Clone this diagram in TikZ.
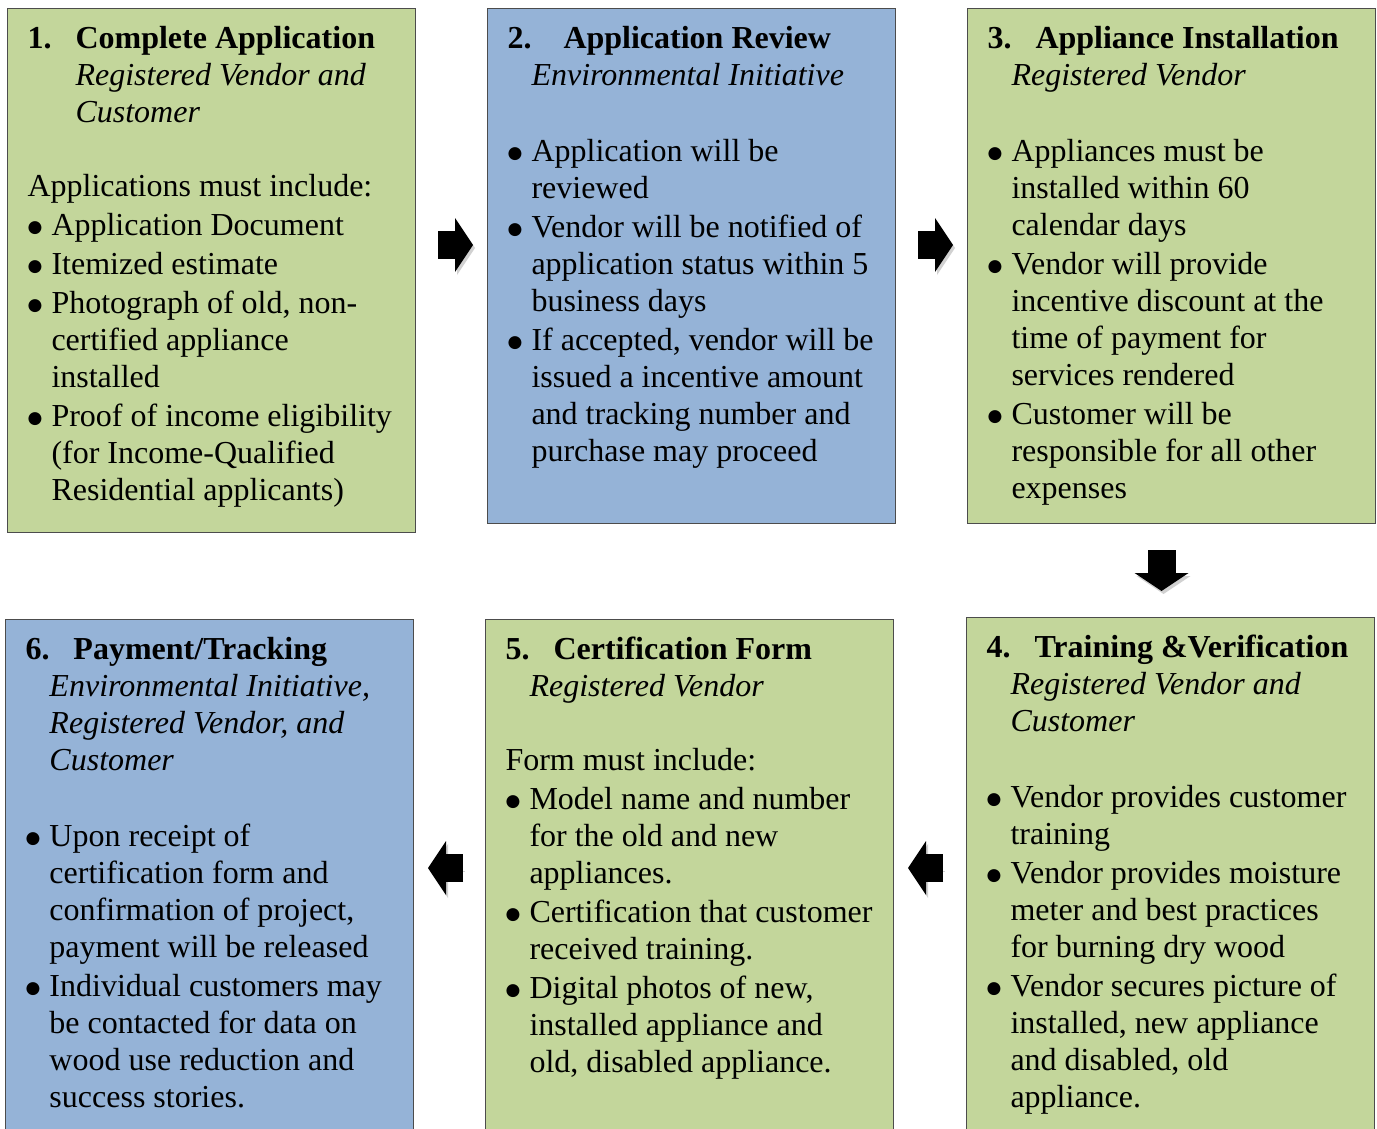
\documentclass[tikz,border=0pt]{standalone}
\usepackage{fontspec}
\setmainfont{Liberation Serif}
\newfontfamily\symfont{DejaVu Sans}
\usetikzlibrary{arrows.meta,calc}
\definecolor{boxgreen}{HTML}{C3D69B}
\definecolor{boxblue}{HTML}{95B3D7}
\newcommand\boxsetup{\fontsize{32pt}{37pt}\selectfont
  \spaceskip=8pt plus 4pt minus 1pt\relax\xspaceskip=8pt plus 4pt\relax
  \rightskip=0pt plus 1fil\relax\parskip=2pt\relax\parindent=0pt\relax}
\newcommand\bigbullet{\raisebox{3pt}{\symfont\fontsize{17pt}{18pt}\selectfont ●}}
\newcommand\bul{\par\hangindent=24pt\hangafter=1\noindent\makebox[24pt][l]{\bigbullet}}
\newcommand\stephead[3]{\noindent\makebox[#1][l]{\textbf{#2}}\textbf{#3}\par\vspace{-2pt}}
\newcommand\stepsub[2]{{\leftskip=#1\relax\itshape #2\par}}
\newcommand\gap[1]{\par\vspace{#1}}
\newcommand\boxtext[1]{\parbox[t]{368pt}{\boxsetup #1\par}}
\begin{document}
\begin{tikzpicture}[x=1pt,y=-1pt,
  stepbox/.style={draw=black!70, line width=1pt, anchor=north west,
    inner xsep=20pt, inner ysep=0pt, text height=40pt},
  blockarrow/.style={line width=28pt, black,
    -{Triangle[length=18pt,width=54pt,line width=0pt]},
    preaction={draw=black!18, transform canvas={shift={(2pt,-3pt)}}}}
]
\useasboundingbox[fill=white] (0,0) rectangle (1377,1129);

\node[stepbox, fill=boxgreen, text depth=484pt] (b1) at (7,8) {\boxtext{%
\stephead{48pt}{1.}{Complete Application}
\stepsub{48pt}{Registered Vendor and\\Customer}
\gap{35pt}
Applications must include:
\bul Application Document
\bul Itemized estimate
\bul Photograph of old, non-\\certified appliance\\installed
\bul Proof of income eligibility\\(for Income-Qualified\\Residential applicants)}};

\node[stepbox, fill=boxblue, text depth=475pt] (b2) at (487,8) {\boxtext{%
\stephead{56pt}{2.}{Application Review}
\stepsub{24pt}{Environmental Initiative}
\gap{37pt}
\bul Application will be\\reviewed
\bul Vendor will be notified of\\application status within 5\\business days
\bul If accepted, vendor will be\\issued a incentive amount\\and tracking number and\\purchase may proceed}};

\node[stepbox, fill=boxgreen, text depth=475pt] (b3) at (967,8) {\boxtext{%
\stephead{48pt}{3.}{Appliance Installation}
\stepsub{24pt}{Registered Vendor}
\gap{37pt}
\bul Appliances must be\\installed within 60\\calendar days
\bul Vendor will provide\\incentive discount at the\\time of payment for\\services rendered
\bul Customer will be\\responsible for all other\\expenses}};

\node[stepbox, fill=boxgreen, text depth=500pt] (b4) at (966,617) {\boxtext{%
\stephead{48pt}{4.}{Training \&Verification}
\stepsub{24pt}{Registered Vendor and\\Customer}
\gap{37pt}
\bul Vendor provides customer\\training
\bul Vendor provides moisture\\meter and best practices\\for burning dry wood
\bul Vendor secures picture of\\installed, new appliance\\and disabled, old\\appliance.}};

\node[stepbox, fill=boxgreen, text depth=500pt] (b5) at (485,619) {\boxtext{%
\stephead{48pt}{5.}{Certification Form}
\stepsub{24pt}{Registered Vendor}
\gap{35pt}
Form must include:
\bul Model name and number\\for the old and new\\appliances.
\bul Certification that customer\\received training.
\bul Digital photos of new,\\installed appliance and\\old, disabled appliance.}};

\node[stepbox, fill=boxblue, text depth=500pt] (b6) at (5,619) {\boxtext{%
\stephead{48pt}{6.}{Payment/Tracking}
\stepsub{24pt}{Environmental Initiative,\\Registered Vendor, and\\Customer}
\gap{37pt}
\bul Upon receipt of\\certification form and\\confirmation of project,\\payment will be released
\bul Individual customers may\\be contacted for data on\\wood use reduction and\\success stories.}};

\coordinate (r1) at ($(b1.north east)+(0,237)$);
\coordinate (r2) at ($(b2.north east)+(0,237)$);
\coordinate (d1) at ($(b3.south)+(-10,0)$);
\coordinate (l1) at ($(b4.north west)+(0,251)$);
\coordinate (l2) at ($(b5.north west)+(0,249)$);

\draw[blockarrow, shorten <=22pt, shorten >=14pt] (r1) -- (r1 -| b2.west);
\draw[blockarrow, shorten <=22pt, shorten >=14pt] (r2) -- (r2 -| b3.west);
\draw[blockarrow, shorten <=26pt, shorten >=26pt] (d1) -- (d1 |- b4.north);
\draw[blockarrow, shorten <=23pt, shorten >=14pt] (l1) -- (l1 -| b5.east);
\draw[blockarrow, shorten <=22pt, shorten >=14pt] (l2) -- (l2 -| b6.east);
\end{tikzpicture}
\end{document}
